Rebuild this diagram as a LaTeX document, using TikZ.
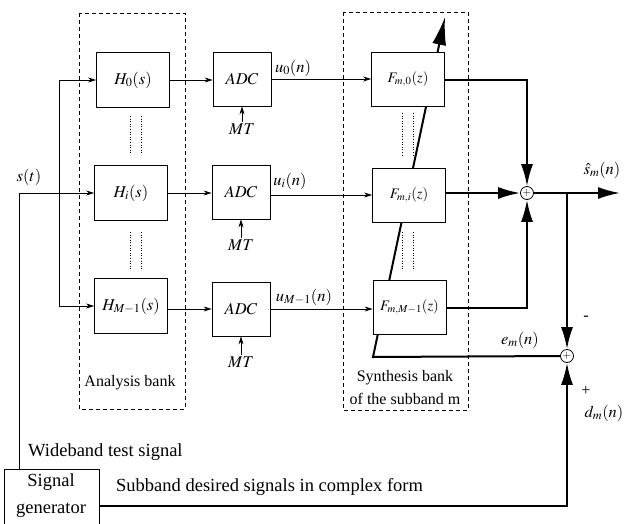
\documentclass[tikz,border=0pt]{standalone}
\usepackage{mathptmx}
\usepackage{fontspec}
\setmainfont{Liberation Serif}
\usetikzlibrary{arrows.meta}
\begin{document}
\begin{tikzpicture}[x=1pt,y=-1pt,
  blk/.style={draw, fill=white, line width=0.8pt, inner sep=0pt},
  hbox/.style={blk, minimum width=73pt, minimum height=55pt, font=\fontsize{16.5}{18}\selectfont},
  abox/.style={blk, minimum width=58pt, minimum height=54pt, font=\fontsize{16.5}{18}\selectfont},
  fbox/.style={blk, minimum width=73pt, minimum height=54pt, font=\fontsize{14.5}{16}\selectfont},
  sumn/.style={draw, circle, fill=white, line width=0.8pt, minimum size=13pt, inner sep=0pt, font=\fontsize{11}{11}\selectfont},
  thin/.style={line width=0.7pt, -{Stealth[length=8pt,width=5pt]}},
  thick/.style={line width=2pt, -{Latex[length=22pt,width=12pt]}},
  bank/.style={draw, dash pattern=on 4pt off 3pt, line width=0.7pt},
  dots/.style={dotted, line width=0.6pt},
  lbl/.style={inner sep=1pt, font=\fontsize{16.5}{18}\selectfont},
  txt/.style={inner sep=0pt, font=\fontsize{18.5}{22}\selectfont},
  btxt/.style={inner sep=0pt, font=\fontsize{16}{19}\selectfont, align=center},
  sgn/.style={inner sep=0pt, font=\fontsize{16}{16}\selectfont},
]
\useasboundingbox (0,0) rectangle (638,523);

% bank outlines
\draw[bank] (79,13) rectangle (185,409);
\draw[bank] (343,12) rectangle (468,410);

% adaptation (error) path, drawn under the synthesis boxes
\coordinate (ecorner) at (373,357);
\coordinate (etip) at (445,17);
\coordinate (sum2pos) at (567,356);

% dotted continuation marks
\draw[dots] (130,116) -- (130,155);
\draw[dots] (141,116) -- (141,155);
\draw[dots] (130,232) -- (130,270);
\draw[dots] (141,232) -- (141,270);
\draw[dots] (402,113) -- (402,157);
\draw[dots] (413,113) -- (413,157);
\draw[dots] (402,232) -- (402,270);
\draw[dots] (413,232) -- (413,270);

\node[sumn] (sum2) at (sum2pos) {$+$};
\draw[line width=2pt, -{Latex[length=28pt,width=14pt]}] (sum2.west) -- (ecorner) -- (etip);

% analysis filters
\node[hbox] (h0) at (133,80) {$H_0(s)$};
\node[hbox] (hi) at (131,193) {$H_i(s)$};
\node[hbox] (hm) at (131,306) {$H_{M-1}(s)$};

% ADCs
\node[abox] (a0) at (242,79) {$ADC$};
\node[abox] (ai) at (241,192) {$ADC$};
\node[abox] (am) at (241,309) {$ADC$};

% synthesis filters
\node[fbox] (f0) at (408,79) {$F_{m,0}(z)$};
\node[fbox] (fi) at (409,195) {$F_{m,i}(z)$};
\node[fbox] (fm) at (409.5,307.5) {$F_{m,M-1}(z)$};

% sums
\node[sumn] (sum1) at (527,193) {$+$};

% signal generator
\node[blk, minimum width=95pt, minimum height=56pt, anchor=north west] (gen) at (4,469) {};
\node[txt] at (51,482) {Signal};
\node[txt] at (51,510) {generator};

% input distribution
\coordinate (gtop) at (19,469);
\coordinate (sbend) at (19,193);
\coordinate (br0) at (59,80);
\coordinate (brm) at (59,306);
\draw[thin] (gtop) -- (sbend) -- (hi.west);
\draw[thin] (brm) -- (br0) -- (h0.west);
\draw[thin] (br0) -- (brm) -- (hm.west);

% filters to ADCs
\draw[thin] (h0.east) -- (h0.east -| a0.west);
\draw[thin] (hi.east) -- (hi.east -| ai.west);
\draw[thin] (hm.east |- am.west) -- (am.west);

% ADCs to synthesis
\draw[thin] (a0.east) -- (a0.east -| f0.west);
\draw[thin] (ai.east |- fi.west) -- (fi.west);
\draw[thin] (am.east) -- (am.east -| fm.west);

% MT clocks
\node[lbl] (mt0) at (242,129) {$MT$};
\node[lbl] (mti) at (241,245) {$MT$};
\node[lbl] (mtm) at (241,362) {$MT$};
\draw[thin] (mt0.north) -- (a0.south);
\draw[thin] (mti.north) -- (ai.south);
\draw[thin] (mtm.north) -- (am.south);

% labels
\node[lbl] at (293,68) {$u_0(n)$};
\node[lbl] at (290,181) {$u_i(n)$};
\node[lbl] at (304,297) {$u_{M-1}(n)$};
\node[lbl] at (29,177) {$s(t)$};
\node[lbl] at (602,170) {$\hat{s}_m(n)$};
\node[lbl] at (520,340) {$e_m(n)$};
\node[lbl] at (604,413) {$d_m(n)$};
\node[sgn] at (586,318) {-};
\node[sgn] at (586,391) {+};

% synthesis outputs to sum
\coordinate (c0) at (527,80);
\coordinate (cm) at (527,308);
\draw[thick] (f0.east |- c0) -- (c0) -- (sum1.north);
\draw[thick] (fi.east |- sum1.west) -- (sum1.west);
\draw[thick] (fm.east |- cm) -- (cm) -- (sum1.south);

% output and desired path
\coordinate (outtip) at (620,193);
\coordinate (tap) at (567,193);
\draw[thick] (sum1.east) -- (outtip);
\draw[thick] (tap) -- (sum2.north);
\coordinate (gcorner) at (567,506);
\draw[thick] (gen.east |- gcorner) -- (gcorner) -- (sum2.south);

% bank captions and text
\node[btxt] at (130,383) {Analysis bank};
\node[btxt] at (405,378) {Synthesis bank};
\node[btxt] at (405,399) {of the subband m};
\node[txt, anchor=west] at (28,452) {Wideband test signal};
\node[txt, anchor=west] at (116,487) {Subband desired signals in complex form};
\end{tikzpicture}
\end{document}
